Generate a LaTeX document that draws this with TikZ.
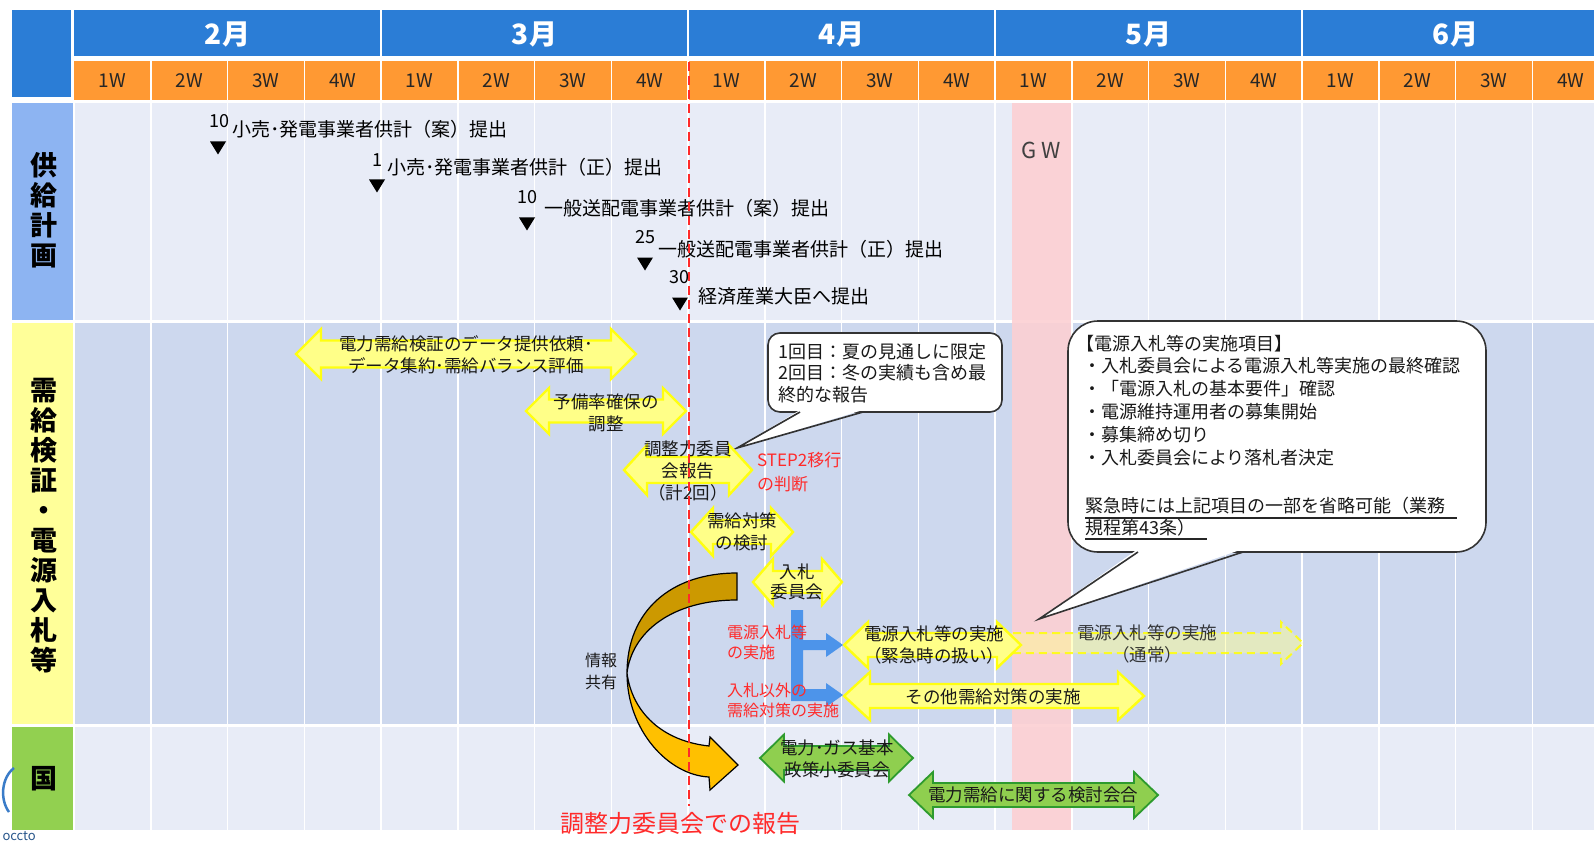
\documentclass[tikz,border=0pt]{standalone}
\usepackage{fontspec}
\setmainfont{Noto Sans CJK JP}
\definecolor{hdrblue}{HTML}{2B7DD6}
\definecolor{wkorange}{HTML}{FF9933}
\definecolor{lblblue}{HTML}{8DB4F2}
\definecolor{lblyellow}{HTML}{FFFF99}
\definecolor{lblgreen}{HTML}{92D050}
\definecolor{rowlight}{HTML}{E8ECF7}
\definecolor{rowdark}{HTML}{CDD8EE}
\definecolor{gwpink}{HTML}{FCD0D3}
\definecolor{yfill}{HTML}{FFFF88}
\definecolor{yedge}{HTML}{FFFF10}
\definecolor{gfill}{HTML}{8FCF4F}
\definecolor{gedge}{HTML}{2E9B2E}
\definecolor{bluebr}{HTML}{4D94EA}
\definecolor{golddark}{HTML}{CC9900}
\definecolor{goldlight}{HTML}{FFC000}
\definecolor{redtxt}{HTML}{FF2A2A}
\definecolor{logoblue}{HTML}{3A7CC8}
% double arrow: style, x1, x2, yc, body half, head half, head length
\newcommand{\dblarr}[7]{%
  \pgfmathsetmacro{\dAx}{#2+#7}\pgfmathsetmacro{\dBx}{#3-#7}%
  \pgfmathsetmacro{\dYt}{#4-#5}\pgfmathsetmacro{\dYb}{#4+#5}%
  \pgfmathsetmacro{\dHt}{#4-#6}\pgfmathsetmacro{\dHb}{#4+#6}%
  \draw[#1] (#2,#4) -- (\dAx,\dHt) -- (\dAx,\dYt) -- (\dBx,\dYt) -- (\dBx,\dHt) -- (#3,#4)
    -- (\dBx,\dHb) -- (\dBx,\dYb) -- (\dAx,\dYb) -- (\dAx,\dHb) -- cycle;}
% right arrow
\newcommand{\rgtarr}[7]{%
  \pgfmathsetmacro{\dBx}{#3-#7}%
  \pgfmathsetmacro{\dYt}{#4-#5}\pgfmathsetmacro{\dYb}{#4+#5}%
  \pgfmathsetmacro{\dHt}{#4-#6}\pgfmathsetmacro{\dHb}{#4+#6}%
  \draw[#1] (#2,\dYt) -- (\dBx,\dYt) -- (\dBx,\dHt) -- (#3,#4) -- (\dBx,\dHb) -- (\dBx,\dYb) -- (#2,\dYb) -- cycle;}
\newcommand{\mstri}[2]{\fill[black] ({#1-8},{#2-6.5}) -- ({#1+8},{#2-6.5}) -- (#1,{#2+6.5}) -- cycle;}
\tikzset{
  wk/.style={font=\fontsize{19}{22}\selectfont, text=black!85, inner sep=0pt},
  mon/.style={font=\bfseries\fontsize{28}{30}\selectfont, text=white, inner sep=0pt},
  side/.style={font=\bfseries\fontsize{27}{30}\selectfont, align=center, inner sep=0pt, text=black},
  num/.style={font=\fontsize{18}{20}\selectfont, inner sep=0pt},
  ms/.style={font=\fontsize{19}{22}\selectfont, anchor=west, inner sep=0pt},
  atext/.style={font=\fontsize{17.5}{22}\selectfont, align=center, inner sep=0pt, text=black!90},
  redtext/.style={font=\fontsize{16}{20}\selectfont, align=left, anchor=west, inner sep=0pt, text=redtxt},
  cotext/.style={font=\fontsize{18}{22}\selectfont, anchor=west, inner sep=0pt, text=black!90},
  callout/.style={fill=white, draw=black!80, line width=1.6pt},
  gridline/.style={white, line width=1.5pt},
  yarrow/.style={fill=yfill, draw=yedge, line width=2.4pt, line join=miter},
  garrow/.style={fill=gfill, draw=gedge, line width=1.8pt, line join=miter},
  harrow/.style={fill=yfill, fill opacity=0.45, draw=yedge, draw opacity=0.9, dash pattern=on 8pt off 5pt, line width=2pt},
  reddash/.style={draw=redtxt, line width=2.4pt, dash pattern=on 9pt off 5pt}
}
\begin{document}
\begin{tikzpicture}[x=1pt,y=-1pt]
\useasboundingbox (0,0) rectangle (1594,850);
\fill[white] (0,0) rectangle (1594,850);
% ---------- header ----------
\fill[hdrblue] (12,10) rectangle (71,97);
\fill[hdrblue] (74,10) rectangle (1594,56);
\foreach \m in {1,...,4} \draw[gridline] ({74+307*\m},10) -- ({74+307*\m},56);
\fill[wkorange] (74,61) rectangle (1594,100);
\foreach \k in {1,...,19} \draw[gridline] ({74+76.75*\k},61) -- ({74+76.75*\k},100);
\foreach \m/\mn in {0/2,1/3,2/4,3/5,4/6} {
  \node[mon] (mon\mn) at ({74+307*\m+153.5},34) {\mn 月};
  \foreach \w in {1,...,4} \node[wk] (wk\mn-\w) at ({74+307*\m+76.75*(\w-1)+38.4},81) {\w W};
}
% ---------- rows ----------
\fill[rowlight] (75,103) rectangle (1594,320);
\fill[rowdark] (75,323) rectangle (1594,724);
\fill[rowlight] (75,727) rectangle (1594,830);
\fill[lblblue] (12,103) rectangle (73,320);
\fill[lblyellow] (12,323) rectangle (73,724);
\fill[lblgreen] (12,727) rectangle (73,830);
\foreach \k in {1,...,19} \draw[gridline] ({74+76.75*\k},103) -- ({74+76.75*\k},830);
\node[side] (lab1) at (44,210) {供\\給\\計\\画};
\node[side] (lab2) at (44,526) {需\\給\\検\\証\\・\\電\\源\\入\\札\\等};
\node[side] (lab3) at (44,779) {国};
% GW band
\fill[gwpink, opacity=0.9] (1012,103) rectangle (1071,830);
\node[font=\fontsize{22}{24}\selectfont, text=black!75, inner sep=0pt] (gw) at (1041,150) {G\kern5pt W};
% logo fragment
\draw[logoblue, line width=2.5pt] (14,768) .. controls (1,778) and (0,800) .. (9,812);
\node[font=\fontsize{13}{14}\selectfont, text=logoblue!70!black, anchor=east, inner sep=0pt] (logo) at (36,836) {occto};
% ---------- milestones ----------
\node[num] (n1) at (219,121) {10};  \mstri{218}{148}
\node[ms] (m1) at (232,129) {小売･発電事業者供計（案）提出};
\node[num] (n2) at (377,160) {1};   \mstri{377}{186}
\node[ms] (m2) at (387,167) {小売･発電事業者供計（正）提出};
\node[num] (n3) at (527,197) {10};  \mstri{527}{224}
\node[ms] (m3) at (544,208) {一般送配電事業者供計（案）提出};
\node[num] (n4) at (645,237) {25};  \mstri{645}{264}
\node[ms] (m4) at (658,249) {一般送配電事業者供計（正）提出};
\node[num] (n5) at (679,277) {30};  \mstri{680}{304}
\node[ms] (m5) at (698,296) {経済産業大臣へ提出};
% ---------- callouts ----------
\draw[callout, rounded corners=12pt] (768,333) rectangle (1002,412);
\fill[white] (800,410) -- (737,448) -- (863,410) -- cycle;
\draw[black!80, line width=1.6pt, line join=miter] (800,412) -- (737,448) -- (863,412);
\node[cotext] (c1a) at (778,352) {1回目：夏の見通しに限定};
\node[cotext] (c1b) at (778,373) {2回目：冬の実績も含め最};
\node[cotext] (c1c) at (778,395) {終的な報告};
\draw[callout, rounded corners=30pt] (1068,321) rectangle (1486,552);
\fill[white] (1138,549) -- (1039,619) -- (1243,549) -- cycle;
\draw[black!80, line width=1.6pt, line join=miter] (1138,552) -- (1039,619) -- (1243,552);
\node[cotext] (c2a) at (1076,344) {【電源入札等の実施項目】};
\node[cotext] (c2b) at (1083,366) {・入札委員会による電源入札等実施の最終確認};
\node[cotext] (c2c) at (1083,389) {・「電源入札の基本要件」確認};
\node[cotext] (c2d) at (1083,412) {・電源維持運用者の募集開始};
\node[cotext] (c2e) at (1083,435) {・募集締め切り};
\node[cotext] (c2f) at (1083,458) {・入札委員会により落札者決定};
\node[cotext] (c2g) at (1085,506) {緊急時には上記項目の一部を省略可能（業務};
\node[cotext] (c2h) at (1085,528) {規程第43条）};
\draw[black!85, line width=1.2pt] (1085,518) -- (1457,518);
\draw[black!85, line width=1.2pt] (1085,539) -- (1207,539);
% ---------- arrows ----------
\dblarr{yarrow}{296}{636}{354}{13.5}{25}{25}
\dblarr{yarrow}{526}{686}{411}{11.5}{23}{23}
\dblarr{yarrow}{624}{752}{470}{13}{25}{23}
\dblarr{yarrow}{691}{793}{532}{12}{24}{22}
\dblarr{yarrow}{753}{842}{582}{11}{23}{20}
\rgtarr{harrow}{1000}{1303}{643}{10}{21}{22}
\dblarr{yarrow}{844}{1021}{645}{12}{23}{24}
\dblarr{yarrow}{844}{1144}{696}{12}{24}{26}
\dblarr{garrow}{760}{913}{758}{12}{23.5}{24}
\dblarr{garrow}{909}{1158}{795}{12}{23}{24}
% blue bracket
\fill[bluebr] (791,610) -- (803,610) -- (803,640) -- (826,640) -- (826,633) -- (843,645) -- (826,657) -- (826,650)
  -- (803,650) -- (803,689) -- (826,689) -- (826,683) -- (843,695) -- (826,707) -- (826,701) -- (791,701) -- cycle;
% orange curved arrow
\filldraw[fill=golddark, draw=black, line width=1.2pt] (737,573) .. controls (670,573) and (627,612) .. (627,673)
  .. controls (632,632) and (672,600) .. (737,600) -- cycle;
\filldraw[fill=goldlight, draw=black, line width=1.2pt, line join=miter] (627,673) .. controls (627,730) and (668,775) .. (709,777)
  -- (710,790) -- (738,765) -- (710,737) -- (709,746) .. controls (662,741) and (632,712) .. (627,673) -- cycle;
% ---------- arrow texts ----------
\node[atext] (tA) at (466,355) {電力需給検証のデータ提供依頼･\\データ集約･需給バランス評価};
\node[atext] (tB) at (606,413) {予備率確保の\\調整};
\node[atext] (tC) at (688,471) {調整力委員\\会報告\\（計2回）};
\node[atext] (tD) at (742,532) {需給対策\\の検討};
\node[atext, font=\fontsize{17.5}{20}\selectfont] (tE) at (797,582) {入札\\委員会};
\node[atext] (tG) at (934,645) {電源入札等の実施\\（緊急時の扱い）};
\node[atext, text opacity=0.85] (tH) at (1147,644) {電源入札等の実施\\（通常）};
\node[atext] (tI) at (993,697) {その他需給対策の実施};
\node[atext] (tM1) at (837,759) {電力･ガス基本\\政策小委員会};
\node[atext] (tM2) at (1033,795) {電力需給に関する検討会合};
\node[redtext, font=\fontsize{17}{24}\selectfont] (step2) at (757,472) {STEP2移行\\の判断};
\node[redtext] (r1) at (727,642) {電源入札等\\の実施};
\node[redtext] (r2) at (727,700) {入札以外の\\需給対策の実施};
\node[atext, font=\fontsize{16}{22}\selectfont] (info) at (601,671) {情報\\共有};
% ---------- red dashed line ----------
\coordinate (rdTop) at (689,62);
\coordinate (rdBot) at (689,806);
\draw[reddash] (rdTop) -- (rdBot);
\node[font=\fontsize{24}{26}\selectfont, text=redtxt, inner sep=0pt] (report) at (680,823) {調整力委員会での報告};
\end{tikzpicture}
\end{document}
